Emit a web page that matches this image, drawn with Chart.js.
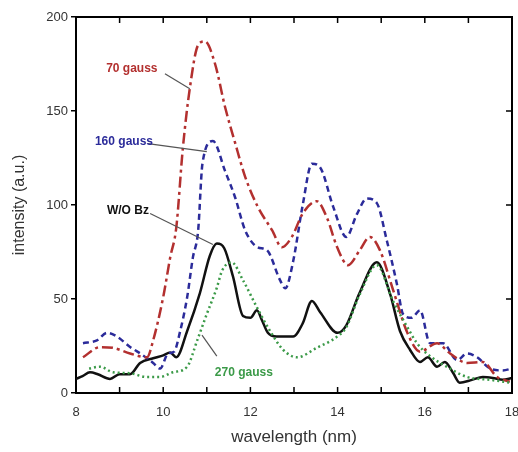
<!DOCTYPE html>
<html>
<head>
<meta charset="utf-8">
<script src="https://cdn.jsdelivr.net/npm/chart.js@4"></script>
<style>
  body { margin: 0; background: #fff; }
  canvas { display: block; }
</style>
</head>
<body>
<canvas id="spectrum" width="518" height="452"></canvas>
<script>
// wavelength (nm) / intensity (a.u.)
const noFieldX = [8.0, 8.15, 8.32, 8.5, 8.78, 9.0, 9.24, 9.47, 9.77, 10.0, 10.16, 10.3, 10.55, 10.84, 11.07, 11.23, 11.4, 11.6, 11.83, 12.0, 12.15, 12.26, 12.4, 12.6, 12.98, 13.2, 13.41, 13.6, 14.0, 14.2, 14.5, 14.9, 15.2, 15.43, 15.66, 15.89, 16.07, 16.28, 16.46, 16.65, 16.8, 17.08, 17.33, 17.56, 17.79, 18.0];
const noFieldY = [7.5, 9, 11, 10, 7.5, 10, 10, 16, 18.5, 20, 21.5, 19, 33, 53, 73, 79.5, 77, 62, 41, 40, 44, 39, 32, 30, 30, 37, 49, 43, 32, 36, 53, 69.5, 53, 33, 23, 16.5, 19, 14, 16.5, 10.6, 5.5, 7, 8.5, 8, 7, 8];

const g70X = [8.16, 8.55, 8.85, 9.24, 9.63, 9.77, 10.0, 10.16, 10.3, 10.45, 10.61, 10.8, 10.96, 11.19, 11.42, 11.65, 11.88, 12.17, 12.5, 12.72, 12.95, 13.2, 13.52, 13.76, 13.99, 14.24, 14.51, 14.74, 14.97, 15.27, 15.6, 15.89, 16.28, 16.58, 16.97, 17.33, 17.66, 17.95];
const g70Y = [19, 24.4, 24, 21, 19, 28, 51, 72, 88, 130, 162, 185, 187, 175, 152, 133, 115, 99, 86.5, 77.5, 83, 95.5, 102, 93, 77.5, 68, 76, 83, 76, 55, 32, 22, 26.5, 21, 16, 16.5, 8.5, 6];

const g160X = [8.16, 8.48, 8.71, 8.94, 9.24, 9.54, 9.77, 9.93, 10.11, 10.25, 10.39, 10.55, 10.68, 10.8, 10.9, 11.14, 11.42, 11.65, 11.88, 12.17, 12.38, 12.68, 12.8, 12.98, 13.2, 13.41, 13.6, 13.9, 14.2, 14.44, 14.67, 14.9, 15.13, 15.36, 15.5, 15.7, 15.89, 16.12, 16.42, 16.74, 16.97, 17.2, 17.5, 17.79, 18.0];
const g160Y = [26.5, 28, 32, 30, 24.5, 20, 16, 13, 21, 22, 33, 51, 72, 86, 122, 134, 118, 104, 86.5, 77.5, 76, 60, 55.7, 70, 100, 122, 120, 99, 83, 95, 103.4, 101, 81, 58, 42, 40, 44, 26.5, 26.5, 17.5, 21, 19, 13, 12, 13];

const g270X = [8.3, 8.55, 8.85, 9.24, 9.62, 9.93, 10.22, 10.55, 10.78, 11.0, 11.23, 11.35, 11.57, 11.83, 12.15, 12.45, 12.75, 13.07, 13.52, 13.99, 14.2, 14.5, 14.9, 15.27, 15.6, 15.82, 16.1, 16.5, 16.97, 17.5, 17.95];
const g270Y = [13, 14, 11, 10.5, 8.5, 8.5, 11, 14, 28, 42, 56, 65, 69.5, 60, 45.5, 33, 23, 19, 24, 30, 35, 52, 68, 49, 35, 26.5, 20, 14, 8.5, 7, 5.5];

const xTicks = [8, 10, 12, 14, 16, 18];
const yTicks = [0, 50, 100, 150, 200];

// callout labels: text, colour, label position, leader start, leader end (data units)
const callouts = [
  { text: '70 gauss', color: '#b3302f', at: [9.28, 172.4], from: [10.04, 169.8], to: [10.61, 161.8] },
  { text: '160 gauss', color: '#2b2b9a', at: [9.1, 133.7], from: [9.65, 132.6], to: [11.0, 128.4] },
  { text: 'W/O Bz', color: '#111', at: [9.19, 97], from: [9.7, 95.5], to: [11.14, 79] },
  { text: '270 gauss', color: '#3b9a48', at: [11.85, 10.6], from: [11.23, 19.6], to: [10.89, 30.8] }
];

function pts(xs, ys) {
  return xs.map((x, i) => ({ x: x, y: ys[i] }));
}

const frame = {
  id: 'frame',
  afterDraw(chart) {
    const { ctx, chartArea: a, scales } = chart;
    const x = scales.x, y = scales.y;
    ctx.save();
    ctx.strokeStyle = '#000';
    ctx.lineWidth = 2;
    ctx.beginPath();
    ctx.moveTo(a.left, a.top); ctx.lineTo(a.right, a.top); ctx.lineTo(a.right, a.bottom);
    ctx.stroke();

    // inward ticks on top/bottom each nm, on right at y grid
    ctx.lineWidth = 1.5;
    ctx.beginPath();
    for (let v = 9; v < 18; v++) {
      const px = x.getPixelForValue(v);
      ctx.moveTo(px, a.bottom); ctx.lineTo(px, a.bottom - 6);
      ctx.moveTo(px, a.top); ctx.lineTo(px, a.top + 6);
    }
    yTicks.slice(1, -1).forEach(v => {
      const py = y.getPixelForValue(v);
      ctx.moveTo(a.right, py); ctx.lineTo(a.right - 6, py);
    });
    ctx.stroke();

    // callouts
    ctx.font = 'bold 12px "Liberation Sans", Arial, sans-serif';
    ctx.textAlign = 'center';
    ctx.textBaseline = 'middle';
    callouts.forEach(c => {
      ctx.strokeStyle = '#555';
      ctx.lineWidth = 1.2;
      ctx.beginPath();
      ctx.moveTo(x.getPixelForValue(c.from[0]), y.getPixelForValue(c.from[1]));
      ctx.lineTo(x.getPixelForValue(c.to[0]), y.getPixelForValue(c.to[1]));
      ctx.stroke();
      ctx.fillStyle = c.color;
      ctx.fillText(c.text, x.getPixelForValue(c.at[0]), y.getPixelForValue(c.at[1]));
    });
    ctx.restore();
  }
};

const ctx = document.getElementById('spectrum').getContext('2d');
new Chart(ctx, {
  type: 'line',
  data: {
    datasets: [
      { label: '270 gauss', data: pts(g270X, g270Y), borderColor: '#3b9a48', borderWidth: 2.5, borderDash: [2, 3] },
      { label: '70 gauss', data: pts(g70X, g70Y), borderColor: '#b3302f', borderWidth: 2.5, borderDash: [11, 4, 3, 4] },
      { label: '160 gauss', data: pts(g160X, g160Y), borderColor: '#2b2b9a', borderWidth: 2.5, borderDash: [6, 4] },
      { label: 'W/O Bz', data: pts(noFieldX, noFieldY), borderColor: '#111', borderWidth: 2.5 }
    ]
  },
  options: {
    responsive: false,
    animation: false,
    layout: { padding: { top: 17, right: 6, left: 0, bottom: 0 } },
    elements: {
      point: { radius: 0 },
      line: { cubicInterpolationMode: 'monotone', fill: false }
    },
    plugins: {
      legend: { display: false },
      tooltip: { enabled: false }
    },
    scales: {
      x: {
        type: 'linear',
        min: 8,
        max: 18,
        afterFit: s => { s.height = 59; s.paddingRight = 0; s.paddingLeft = 0; },
        afterBuildTicks: s => { s.ticks = xTicks.map(v => ({ value: v })); },
        grid: { display: false, drawTicks: false },
        border: { display: true, color: '#000', width: 2 },
        ticks: { padding: 12, color: '#333', font: { size: 13, family: '"Liberation Sans", Arial, sans-serif' } },
        title: { display: true, text: 'wavelength (nm)', color: '#333', padding: { top: 0, bottom: 4 }, font: { size: 17, family: '"Liberation Sans", Arial, sans-serif' } }
      },
      y: {
        min: 0,
        max: 200,
        afterFit: s => { s.width = 76; },
        afterBuildTicks: s => { s.ticks = yTicks.map(v => ({ value: v })); },
        grid: { drawOnChartArea: false, drawTicks: true, tickLength: 5, color: '#000', lineWidth: 1.5 },
        border: { display: true, color: '#000', width: 2 },
        ticks: { padding: 3, color: '#333', font: { size: 13, family: '"Liberation Sans", Arial, sans-serif' } },
        title: { display: true, text: 'intensity (a.u.)', color: '#333', padding: { top: 10, bottom: 0 }, font: { size: 16, family: '"Liberation Sans", Arial, sans-serif' } }
      }
    }
  },
  plugins: [frame]
});
</script>
</body>
</html>
